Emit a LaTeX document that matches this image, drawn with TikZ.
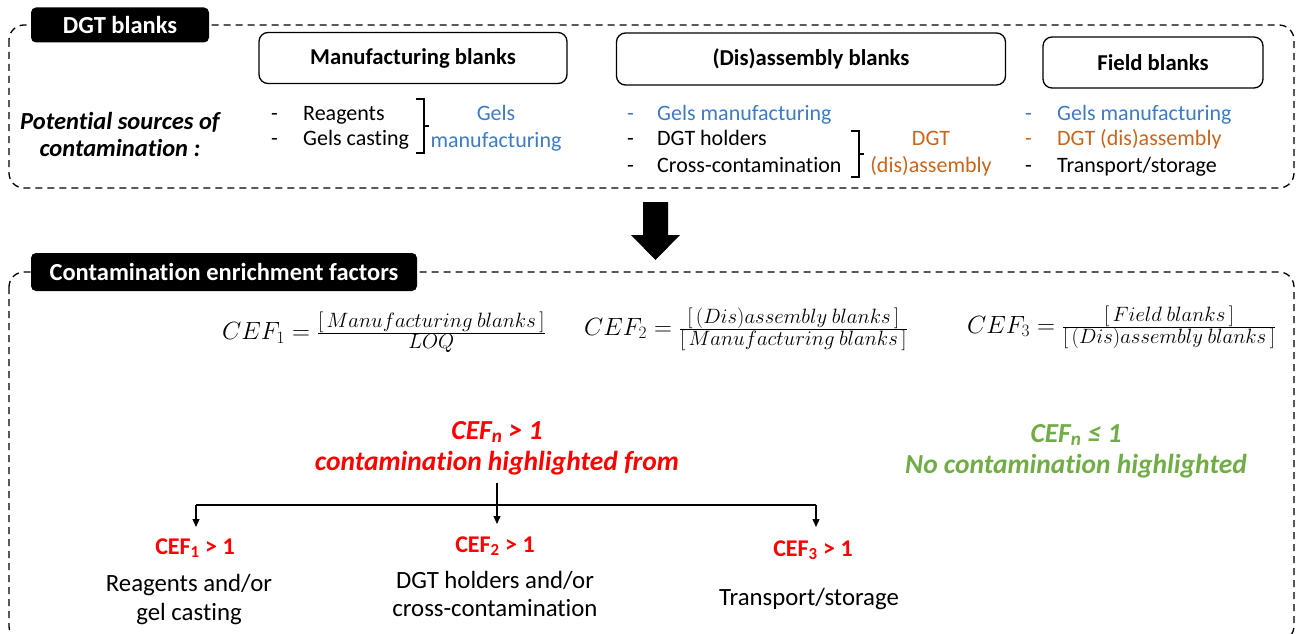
\documentclass[tikz,border=0pt]{standalone}
\usepackage{fontspec}
\setmainfont{Carlito}[Ligatures={NoCommon}]
\usetikzlibrary{arrows.meta}
\definecolor{cblue}{HTML}{3D7CC0}
\definecolor{corange}{HTML}{C8651B}
\definecolor{cred}{HTML}{FF0000}
\definecolor{cgreen}{HTML}{70AD47}
\newcommand{\fsz}{\fontsize{20.5}{24}\selectfont}
\tikzset{
  dashbox/.style={draw, line width=1.3pt, dash pattern=on 7pt off 5pt, rounded corners=15pt},
  tagbox/.style={fill=black, rounded corners=5pt, text=white, font=\fontsize{24.5}{28}\selectfont\bfseries, inner sep=0pt, anchor=center},
  titlebox/.style={draw, line width=1.3pt, rounded corners=9pt, font=\fontsize{22.7}{26}\selectfont\bfseries, inner sep=0pt, anchor=center},
  txt/.style={font=\fontsize{22}{26}\selectfont, inner sep=0pt, anchor=base west},
  ctxt/.style={font=\fontsize{22}{26}\selectfont, inner sep=0pt, anchor=base},
  btxt/.style={font=\fontsize{24.8}{29}\selectfont, inner sep=0pt, anchor=base},
  brk/.style={line width=1.3pt},
  eq/.style={font=\fontsize{24}{28}\selectfont, inner sep=0pt, anchor=west},
  stmt/.style={font=\fontsize{27.5}{31}\selectfont\bfseries\itshape, align=center, inner sep=0pt},
  cefbox/.style={font=\fontsize{24}{28}\selectfont\bfseries, text=cred, inner sep=0pt, anchor=base},
  arr/.style={line width=1.3pt, -{Triangle[length=8pt,width=7pt]}}
}
\begin{document}
\begin{tikzpicture}[x=1pt,y=-1pt]
\useasboundingbox (0,0) rectangle (1299,634);
% ---- top dashed box
\draw[dashbox] (9,25) rectangle (1294,188);
\node[tagbox, minimum width=178pt, minimum height=35pt] (dgt) at (120,25) {DGT blanks};
\node[titlebox, minimum width=308pt, minimum height=51pt] (mb) at (413,58) {Manufacturing blanks};
\node[titlebox, minimum width=389pt, minimum height=52pt] (db) at (811,59) {(Dis)assembly blanks};
\node[titlebox, minimum width=220pt, minimum height=51pt] (fb) at (1153,62.5) {Field blanks};
\node[font=\fontsize{24.5}{27}\selectfont\bfseries\itshape, align=center, inner sep=0pt] (ps) at (120,134) {Potential sources of\\contamination :};
% manufacturing column
\node[txt] (m1d) at (271,120) {-};
\node[txt] (m1) at (303,120) {Reagents};
\node[txt] (m2d) at (271,145) {-};
\node[txt] (m2) at (303,145) {Gels casting};
\draw[brk] (416,99) -- (424,99) -- (424,153) -- (416,153);
\draw[brk] (424,126) -- (429,126);
\node[ctxt, text=cblue] (mg1) at (496,121) {Gels};
\node[ctxt, text=cblue] (mg2) at (496,147) {manufacturing};
% disassembly column
\node[txt, text=cblue] (d1d) at (627,120) {-};
\node[txt, text=cblue] (d1) at (657,120) {Gels manufacturing};
\node[txt] (d2d) at (627,145) {-};
\node[txt] (d2) at (657,145) {DGT holders};
\node[txt] (d3d) at (627,172) {-};
\node[txt] (d3) at (657,172) {Cross-contamination};
\draw[brk] (851,131) -- (859,131) -- (859,177) -- (851,177);
\draw[brk] (859,154) -- (864,154);
\node[ctxt, text=corange] (dg1) at (931,145) {DGT};
\node[ctxt, text=corange] (dg2) at (931,172) {(dis)assembly};
% field column
\node[txt, text=cblue] (f1d) at (1025,120) {-};
\node[txt, text=cblue] (f1) at (1057,120) {Gels manufacturing};
\node[txt, text=corange] (f2d) at (1025,145) {-};
\node[txt, text=corange] (f2) at (1057,145) {DGT (dis)assembly};
\node[txt] (f3d) at (1025,172) {-};
\node[txt] (f3) at (1057,172) {Transport/storage};
% ---- big arrow
\fill (643,202) -- (668,202) -- (668,235) -- (680,235) -- (655.5,260) -- (631,235) -- (643,235) -- cycle;
% ---- bottom dashed box
\draw[dashbox] (9,272) rectangle (1294,641);
\node[tagbox, minimum width=386pt, minimum height=38pt] (cef) at (224,272) {Contamination enrichment factors};
% formulas
\node[eq] (e1) at (222,332) {$CEF_1=\frac{\hbox{\fsz$[\,Manufacturing\ blanks\,]$}}{\hbox{\fsz$LOQ$}}$};
\node[eq] (e2) at (584,329) {$CEF_2=\frac{\hbox{\fsz$[\,(Dis)assembly\ blanks\,]$}}{\hbox{\fsz$[\,Manufacturing\ blanks\,]$}}$};
\node[eq] (e3) at (967,327) {$CEF_3=\frac{\hbox{\fsz$[\,Field\ blanks\,]$}}{\hbox{\fsz$[\,(Dis)assembly\ blanks\,]$}}$};
% red / green statements
\node[stmt, text=cred] (red) at (497,448) {CEF\textsubscript{n} > 1\\contamination highlighted from};
\node[stmt, text=cgreen] (green) at (1076,451) {CEF\textsubscript{n} ≤ 1\\No contamination highlighted};
% tree
\coordinate (hl) at (196,505);
\coordinate (hr) at (816,505);
\coordinate (top) at (497,483);
\coordinate (t1) at (196,527);
\coordinate (t2) at (497,524);
\coordinate (t3) at (816,527);
\draw[line width=1.3pt] (hl) -- (hr);
\draw[arr] (hl) -- (t1);
\draw[arr] (hr) -- (t3);
\draw[arr] (top) -- (t2);
\node[cefbox] (c1) at (195,554) {CEF\textsubscript{1} > 1};
\node[cefbox] (c2) at (495,552) {CEF\textsubscript{2} > 1};
\node[cefbox] (c3) at (813,556) {CEF\textsubscript{3} > 1};
\node[btxt] (r1) at (189,591) {Reagents and/or};
\node[btxt] (r1b) at (189,620) {gel casting};
\node[btxt] (r2) at (495,588) {DGT holders and/or};
\node[btxt] (r2b) at (495,616) {cross-contamination};
\node[btxt] (r3) at (809,605) {Transport/storage};
\end{tikzpicture}
\end{document}
